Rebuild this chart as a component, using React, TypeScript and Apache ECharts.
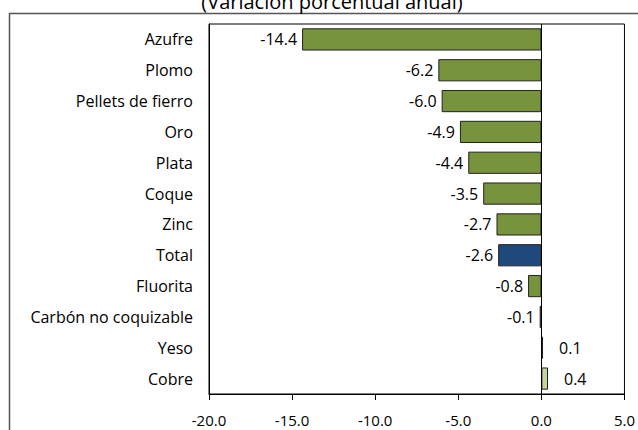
import React, { useEffect, useRef } from "react";
import * as echarts from "echarts";

const categories = [
  "Azufre",
  "Plomo",
  "Pellets de fierro",
  "Oro",
  "Plata",
  "Coque",
  "Zinc",
  "Total",
  "Fluorita",
  "Carbón no coquizable",
  "Yeso",
  "Cobre",
];
const values = [-14.4, -6.2, -6.0, -4.9, -4.4, -3.5, -2.7, -2.6, -0.8, -0.1, 0.1, 0.4];
const title = "(Variación porcentual anual)";
const xMin = -20;
const xMax = 5;
const xStep = 5;

const GREEN = "#77933c";
const BLUE = "#1f497d";
const LIGHT = "#c3d69b";
const FONT = "'Open Sans', 'Noto Sans', sans-serif";

export default function App() {
  const ref = useRef<HTMLDivElement>(null);
  useEffect(() => {
    if (!ref.current) return;
    const chart = echarts.init(ref.current, undefined, { renderer: "svg" });
    const data = values.map((v, i) => {
      const name = categories[i];
      let color = GREEN;
      if (name === "Total") color = BLUE;
      else if (v > 0) color = LIGHT;
      return {
        value: v,
        itemStyle: { color, borderColor: "#222", borderWidth: 1 },
        label: {
          show: true,
          position: v < 0 ? "left" : "right",
          distance: v < 0 ? 5 : 16,
        },
      };
    });
    chart.setOption({
      animation: false,
      backgroundColor: "#fff",
      textStyle: { fontFamily: FONT },
      grid: {
        left: 209,
        right: 12,
        top: 24,
        bottom: 36,
        show: true,
        borderColor: "#000",
        borderWidth: 1,
        containLabel: false,
      },
      xAxis: {
        type: "value",
        min: xMin,
        max: xMax,
        interval: xStep,
        splitLine: { show: false },
        axisLine: { show: true, onZero: false, lineStyle: { color: "#000", width: 1 } },
        axisTick: { show: true, inside: false, length: 6, lineStyle: { color: "#000" } },
        axisLabel: {
          color: "#000",
          fontSize: 15,
          fontFamily: FONT,
          margin: 18,
          formatter: (v: number) => v.toFixed(1),
        },
      },
      yAxis: {
        type: "category",
        data: categories,
        inverse: true,
        axisLine: { show: true, onZero: false, lineStyle: { color: "#000", width: 1 } },
        axisTick: { show: false },
        axisLabel: { color: "#000", fontSize: 16, fontFamily: FONT, margin: 16 },
      },
      series: [
        {
          type: "bar",
          data,
          barCategoryGap: "28%",
          label: {
            color: "#000",
            fontSize: 16,
            fontFamily: FONT,
            formatter: (p: any) => Number(p.value).toFixed(1),
          },
          markLine: {
            silent: true,
            symbol: "none",
            label: { show: false },
            lineStyle: { color: "#000", type: "solid", width: 1 },
            data: [{ xAxis: 0 }],
          },
        },
      ],
      graphic: [
        {
          type: "rect",
          shape: { x: 9.5, y: 13.5, width: 700, height: 500 },
          style: { fill: "none", stroke: "#555", lineWidth: 1.5 },
          silent: true,
        },
        {
          type: "text",
          x: 332,
          y: 11,
          style: {
            text: title,
            font: `20px ${FONT}`,
            fill: "#000",
            textAlign: "center",
            textVerticalAlign: "bottom",
          },
        },
      ],
    });
    return () => chart.dispose();
  }, []);
  return (
    <div
      ref={ref}
      style={{ position: "fixed", left: 0, top: 0, width: 638, height: 430 }}
    />
  );
}
